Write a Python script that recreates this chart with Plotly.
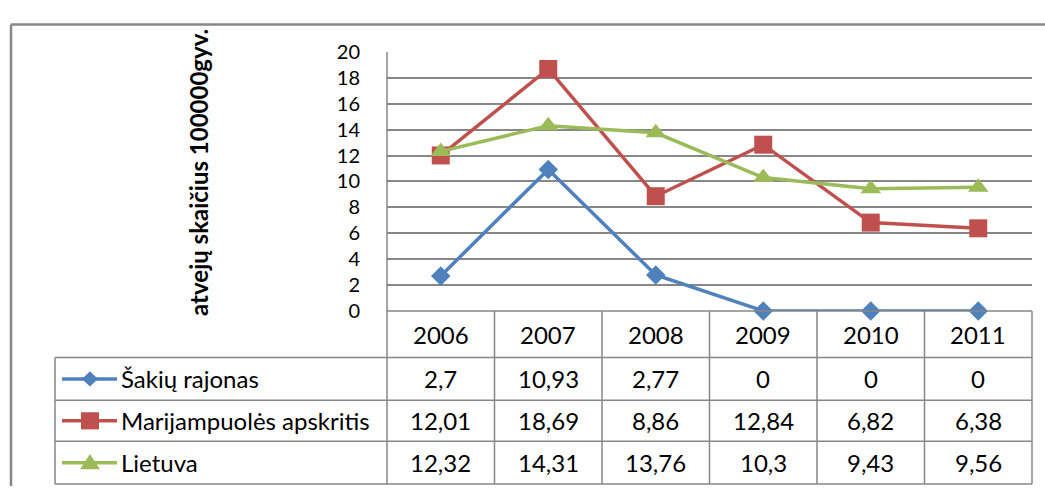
import plotly.graph_objects as go

years = [2006, 2007, 2008, 2009, 2010, 2011]
series_names = ["Šakių rajonas", "Marijampuolės apskritis", "Lietuva"]
sakiai = [2.7, 10.93, 2.77, 0, 0, 0]
marijampole = [12.01, 18.69, 8.86, 12.84, 6.82, 6.38]
lietuva = [12.32, 14.31, 13.76, 10.3, 9.43, 9.56]
y_title = "atvejų skaičius 100000gyv."
y_ticks = [0, 2, 4, 6, 8, 10, 12, 14, 16, 18, 20]

W, H = 1045, 497
colors = ["#4F81BD", "#C0504D", "#9BBB59"]
symbols = ["diamond", "square", "triangle-up"]
msizes = [15, 18, 18]
FONT = "Lato"
GRID = "#878787"

# pixel layout
PL, PR, PT, PB = 387, 1032, 41, 313
ROWS = [313, 362, 407, 450, 495]
TL = 55


def fx(x):
    return x / W


def fy(y):
    return 1 - y / H


fig = go.Figure()
all_vals = [sakiai, marijampole, lietuva]
for name, vals, c, s, ms in zip(series_names, all_vals, colors, symbols, msizes):
    fig.add_trace(go.Scatter(
        x=years, y=vals, name=name, mode="lines+markers",
        line=dict(color=c, width=3.5),
        marker=dict(symbol=s, size=ms, color=c),
        cliponaxis=False, showlegend=False, hoverinfo="skip",
    ))

shapes = []


def line(x0, y0, x1, y1, w=1.5, col=GRID):
    shapes.append(dict(type="line", xref="paper", yref="paper",
                       x0=fx(x0), y0=fy(y0), x1=fx(x1), y1=fy(y1),
                       line=dict(color=col, width=w)))


# outer frame
line(11, 12, 11, H, w=2.5)
line(11, 12, W, 12, w=2.5)
# plot left axis line
line(PL, PT, PL, PB)
# table lines
line(PL, ROWS[0], PR, ROWS[0])
for yy in ROWS[1:]:
    line(TL, yy, PR, yy)
line(TL, ROWS[1], TL, ROWS[-1])
colw = (PR - PL) / 6
for k in range(7):
    line(PL + k * colw, ROWS[0], PL + k * colw, ROWS[-1])

# legend keys (decoration) as shapes
for i, c in enumerate(colors):
    yc = (ROWS[i + 1] + ROWS[i + 2]) / 2
    line(62, yc, 117, yc, w=3.5, col=c)
    mx = 90
    if i == 0:
        r = 8
        path = (f"M {fx(mx - r)} {fy(yc)} L {fx(mx)} {fy(yc - r)} "
                f"L {fx(mx + r)} {fy(yc)} L {fx(mx)} {fy(yc + r)} Z")
    elif i == 1:
        r = 9
        path = (f"M {fx(mx - r)} {fy(yc - r)} L {fx(mx + r)} {fy(yc - r)} "
                f"L {fx(mx + r)} {fy(yc + r)} L {fx(mx - r)} {fy(yc + r)} Z")
    else:
        r = 9
        path = (f"M {fx(mx - r - 1)} {fy(yc + 7)} L {fx(mx + r + 1)} {fy(yc + 7)} "
                f"L {fx(mx)} {fy(yc - 9)} Z")
    shapes.append(dict(type="path", xref="paper", yref="paper", path=path,
                       fillcolor=c, line=dict(width=0)))

annotations = []
TF = 24


def ann(**kw):
    base = dict(showarrow=False, xanchor="center", yanchor="middle",
                font=dict(family=FONT, size=TF, color="#000"))
    base.update(kw)
    annotations.append(base)


hdr_y = fy((ROWS[0] + ROWS[1]) / 2)
for yr in years:
    ann(x=yr, y=hdr_y, xref="x", yref="paper", text=str(yr))
for i, (name, vals) in enumerate(zip(series_names, all_vals)):
    yc = fy((ROWS[i + 1] + ROWS[i + 2]) / 2)
    ann(x=fx(119), y=yc, xref="paper", yref="paper", text=name, xanchor="left")
    for yr, v in zip(years, vals):
        ann(x=yr, y=yc, xref="x", yref="paper", text=f"{v:g}".replace(".", ","))
# y-axis title
ann(x=fx(199), y=fy(168), xref="paper", yref="paper", text="<b>" + y_title + "</b>",
    textangle=-90, font=dict(family=FONT, size=24, color="#000"))

fig.update_layout(
    width=W, height=H, margin=dict(l=0, r=0, t=0, b=0, pad=0), autosize=False,
    paper_bgcolor="white", plot_bgcolor="white", hovermode=False,
    xaxis=dict(domain=[fx(PL), fx(PR)], range=[2005.5, 2011.5],
               showticklabels=False, showgrid=False, zeroline=False, ticks=""),
    yaxis=dict(domain=[fy(PB), fy(PT)], range=[0, 20], tickvals=y_ticks,
               showgrid=True, gridcolor=GRID, gridwidth=1.5, zeroline=False,
               ticks="outside", ticklen=22, tickcolor="rgba(0,0,0,0)",
               tickfont=dict(family=FONT, size=20, color="#000")),
    shapes=shapes, annotations=annotations,
)

fig.write_html("out.html", config={"displayModeBar": False},
               post_script="document.body.style.margin='0';")
